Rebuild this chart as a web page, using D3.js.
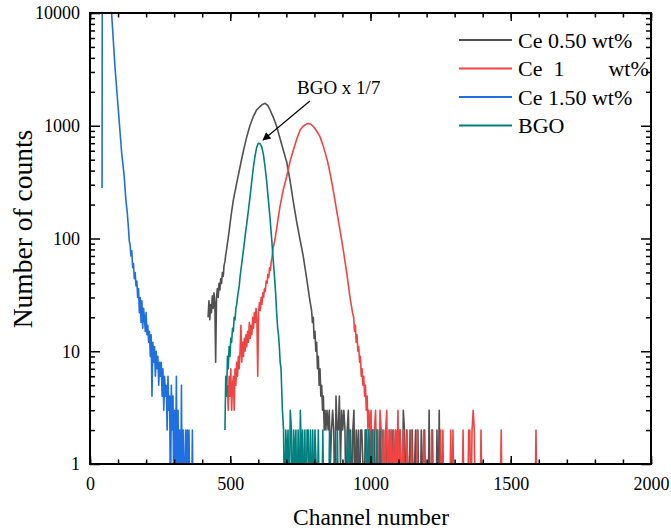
<!doctype html>
<html lang="en">
<head>
<meta charset="utf-8">
<title>Pulse height spectra</title>
<script src="https://d3js.org/d3.v7.min.js"></script>
<style>
  body { margin: 0; background: #fff; }
  svg text { font-family: "Liberation Serif", "Times New Roman", serif; fill: #000; }
  .legend text { white-space: pre; }
</style>
</head>
<body>
<svg id="chart" width="671" height="531"></svg>
<script>
// ---- data (channel, counts) ----
var xTicks = [0, 500, 1000, 1500, 2000];
var yTicks = [1, 10, 100, 1000, 10000];
var legendLabels = ["Ce 0.50 wt%", "Ce  1        wt%", "Ce 1.50 wt%", "BGO"];
var colors = ["#505050", "#f24343", "#1f6fe0", "#00807f"];

// Ce 0.50 wt% (grey)
var grayRise = [20,28,19,26,22,31,24,33,27,8,30,36,30,40,35,44,40,50,46,58,62,72,80];           // from ch 421, step 3
var grayPeak = [[495,111],[503,160],[511,219],[523,310],[535,433],[547,600],[559,800],[570,1000],
  [582,1203],[594,1380],[606,1476],[615,1545],[624,1580],[633,1520],[642,1380],[654,1180],[666,980],
  [677,780],[689,609],[701,480],[713,330],[725,210],[737,140],[748,100],[760,70],[772,45],[784,28]];
var grayFall = [23,18,20,13,15,10,12,7,9,5,7,4,5,3,4,2,3,2];                                     // from ch 790, step 3
var grayTail = [3,2,3,1,2,3,2,0,4,2,2,4,1,3,2,3,2,0,2,3,1,2,0,2,3,
  0,2,1,2,0,2,2,1,0,2,2,0,2,1,2,0,2,2,0,1,2,0,2,0,2,
  1,0,2,2,0,1,2,0,2,0,1,2,0,2,0,2,1,0,3,2,0,2,1,0,2,
  0,2,0,1,2,0,2,0,0,2,1,0,2,0,1,0,3,0,0,2,0,1,0,2,0,
  3,0,1,0,0,0];                                                                                    // from ch 845, step 4

// Ce 1 wt% (red)
var redRise = [5,3,6,4,7,3,5,6,3,7,5,8,6,9,7,10,17,8,12,9,13,10,14,11,15,12,18,13,17,14,20,16,22,18,
  24,19,6,22,27,23,30,26,33,30,36,34,42,40,48,45,55,52,62,68,80];                                 // from ch 490, step 3
var redPeak = [[660,100],[668,135],[677,191],[689,270],[701,353],[713,480],[725,609],[737,760],[749,916],
  [760,990],[770,1030],[778,1047],[788,1030],[800,960],[810,880],[820,800],[830,680],[840,560],[848,470],
  [856,378],[867,270],[879,179],[891,120],[903,79],[915,50],[927,30],[936,22]];
var redFall = [20,15,17,12,14,10,11,8,9,6,7,5,6,4,5,3,4,2,3];                                    // from ch 940, step 3
var redTail = [2,3,0,2,2,3,1,2,0,3,2,1,2,0,2,3,0,2,1,2,0,2,0,2,1,
  3,0,2,0,1,2,0,0,2,0,1,0,2,0,0,1,0,2,0,0,1,0,0,2,0,
  0,1,0,0,0,2,0,1,0,0,0,0,0,2,0,2,0,1,0,0,0,0,2,0,2,
  0,1,0,0,0,0,0,0,2,0,0,0,0,2,2,0,2,3,2,0,1,0,0,0,2,
  0,0,1,0,0,0,0,0,0,0,0,1,0,0,0,0,0,2,0,0,0,0,0,0,0,
  0,1,0,0,0,0,0,0,0,0,0,0,0,0,0,0,0,0,0,0,0,0,0,2,0,0,0];                                        // from ch 998, step 4

// Ce 1.50 wt% (blue)
var blueHead = [[43,280],[44,80000],[70,30000],[77,10000],[89,3340],[101,1380],[113,570],[121,378],
  [128,219],[133,168],[137,125]];
var blueNoise = [95,88,70,78,55,60,44,50,38,42,30,36,22,30,18,28,16,24,20,15,22,14,17,12,15,9,14,4,12,8,
  11,6,10,7,9,5,8,6,8,4,7,3,6,4,5,2,6,3,4,0,5,2,4,0,3,1,6,0,3,0,2,0,5,0,2,0,1,2,0,2,0,2,0,1,0,2,0]; // from ch 140, step 3

// BGO x 1/7 (teal)
var tealRise = [2,6,4,9,7,11,9,13,12,16,15,20,19,24,26,30,34,38];                                // from ch 481, step 3
var tealPeak = [[535,46],[541,60],[547,79],[553,105],[559,136],[565,180],[571,240],[576,309],[582,420],
  [588,533],[594,640],[600,700],[606,695],[612,654],[618,560],[624,433],[630,320],[636,219],[642,150],
  [648,97],[653,65],[658,45],[662,32],[665,23],[669,16],[672,14],[675,11],[678,8],[681,7],[683,5],[686,3]];
var tealTail = [2,0,2,1,2,0,3,2,0,2,1,2,0,2,0,3,1,2,0,2,0,2,2,0,2,
  0,2,0,2,1,0,2,0,1,0,2,0,0,1,0,0,2,0,0,1,0,0,0,2,0,
  0,0,1,0,0,0,0,2,0,2,0,0,1,0,0,0,0,0,1,0,0,0,0,0,2,
  0,2,0,0,2,0,1,0,2,0,0,2,0];                                                                      // from ch 690, step 4

var annotText = "BGO x 1/7";
var annotAt = [738, 1914];
var arrowFrom = [784, 1660];
var arrowTo = [617, 748];

// ---- chart ----
var svg = d3.select("#chart");
var L = 90, R = 651, T = 13, B = 464;
var x = d3.scaleLinear().domain([0, 2000]).range([L, R]);
var y = d3.scaleLog().domain([1, 10000]).range([B, T]);

function seq(start, step, vals) {
  return vals.map(function(v, i) { return [start + i * step, v]; });
}

var series = [
  seq(421, 3, grayRise).concat(grayPeak, seq(790, 3, grayFall), seq(845, 4, grayTail)),
  seq(490, 3, redRise).concat(redPeak, seq(940, 3, redFall), seq(998, 4, redTail)),
  blueHead.concat(seq(140, 3, blueNoise)),
  seq(481, 3, tealRise).concat(tealPeak, seq(690, 4, tealTail))
];

svg.append("defs").append("clipPath").attr("id", "clip")
  .append("rect").attr("x", L).attr("y", T).attr("width", R - L).attr("height", B - T);

var defs = svg.select("defs");
defs.append("marker").attr("id", "arrow").attr("viewBox", "0 0 10 10")
  .attr("refX", 9).attr("refY", 5).attr("markerWidth", 10).attr("markerHeight", 8)
  .attr("markerUnits", "userSpaceOnUse").attr("orient", "auto")
  .append("path").attr("d", "M0,0 L10,5 L0,10 z").attr("fill", "#000");

// zero counts fall below the axis
var line = d3.line()
  .x(function(d) { return x(d[0]); })
  .y(function(d) { return y(Math.max(d[1], 0.3)); });

svg.append("g").attr("clip-path", "url(#clip)")
  .selectAll("path").data(series).enter().append("path")
  .attr("d", line)
  .attr("fill", "none")
  .attr("stroke", function(d, i) { return colors[i]; })
  .attr("stroke-width", 1.6)
  .attr("stroke-linejoin", "round");

// axes, ticks pointing inward
var xMinor = d3.range(0, 2001, 100);
var yMinor = [];
[1, 10, 100, 1000].forEach(function(d) { for (var m = 2; m < 10; m++) yMinor.push(d * m); });

function styleAxis(g) {
  g.selectAll(".domain").remove();
  g.selectAll("line").attr("stroke", "#000").attr("stroke-width", 1.5);
  g.selectAll("text").attr("font-family", "Liberation Serif, serif").attr("font-size", 18).attr("fill", "#000");
}

svg.append("g").attr("transform", "translate(0," + B + ")")
  .call(d3.axisBottom(x).tickValues(xMinor).tickSize(-4.5).tickFormat("")).call(styleAxis);
svg.append("g").attr("transform", "translate(0," + B + ")")
  .call(d3.axisBottom(x).tickValues(xTicks).tickSize(-8).tickPadding(13).tickFormat(d3.format("d"))).call(styleAxis);
svg.append("g").attr("transform", "translate(0," + T + ")")
  .call(d3.axisTop(x).tickValues(xMinor).tickSize(-4.5).tickFormat("")).call(styleAxis);
svg.append("g").attr("transform", "translate(0," + T + ")")
  .call(d3.axisTop(x).tickValues(xTicks).tickSize(-8).tickFormat("")).call(styleAxis);

svg.append("g").attr("transform", "translate(" + L + ",0)")
  .call(d3.axisLeft(y).tickValues(yMinor).tickSize(-5).tickFormat("")).call(styleAxis);
svg.append("g").attr("transform", "translate(" + L + ",0)")
  .call(d3.axisLeft(y).tickValues(yTicks).tickSize(-10).tickPadding(10).tickFormat(d3.format("d"))).call(styleAxis);
svg.append("g").attr("transform", "translate(" + R + ",0)")
  .call(d3.axisRight(y).tickValues(yMinor).tickSize(-5).tickFormat("")).call(styleAxis);
svg.append("g").attr("transform", "translate(" + R + ",0)")
  .call(d3.axisRight(y).tickValues(yTicks).tickSize(-10).tickFormat("")).call(styleAxis);

svg.append("rect").attr("x", L).attr("y", T).attr("width", R - L).attr("height", B - T)
  .attr("fill", "none").attr("stroke", "#000").attr("stroke-width", 2);

// axis titles
svg.append("text").attr("x", 371).attr("y", 525).attr("text-anchor", "middle")
  .attr("font-size", 23.5).text("Channel number");
svg.append("text").attr("transform", "translate(32,229) rotate(-90)")
  .attr("text-anchor", "middle").attr("font-size", 27.5).text("Number of counts");

// annotation
svg.append("text").attr("x", x(annotAt[0])).attr("y", y(annotAt[1]))
  .attr("font-size", 19).text(annotText);
svg.append("line")
  .attr("x1", x(arrowFrom[0])).attr("y1", y(arrowFrom[1]))
  .attr("x2", x(arrowTo[0])).attr("y2", y(arrowTo[1]))
  .attr("stroke", "#000").attr("stroke-width", 1.2).attr("marker-end", "url(#arrow)");

// legend
var lg = svg.append("g").attr("class", "legend");
legendLabels.forEach(function(name, i) {
  var yy = 40 + i * 28.5;
  lg.append("line").attr("x1", 459).attr("x2", 512).attr("y1", yy).attr("y2", yy)
    .attr("stroke", colors[i]).attr("stroke-width", 2);
  lg.append("text").attr("x", 518).attr("y", yy + 7.5).attr("font-size", 22).text(name);
});
</script>
</body>
</html>
